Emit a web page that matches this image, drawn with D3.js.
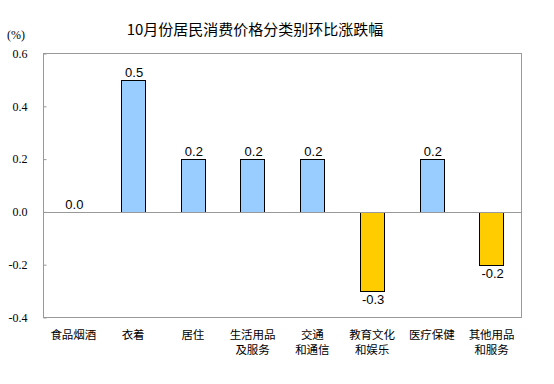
<!DOCTYPE html>
<html>
<head>
<meta charset="utf-8">
<script src="https://cdn.jsdelivr.net/npm/d3@7"></script>
<style>
  body { margin: 0; background: #fff; }
  svg { display: block; }
</style>
</head>
<body>
<div id="chart"></div>
<script>
// data
const categories = ["食品烟酒", "衣着", "居住", "生活用品\n及服务", "交通\n和通信", "教育文化\n和娱乐", "医疗保健", "其他用品\n和服务"];
const values = [0.0, 0.5, 0.2, 0.2, 0.2, -0.3, 0.2, -0.2];
const yTicks = [-0.4, -0.2, 0.0, 0.2, 0.4, 0.6];
const title = "10月份居民消费价格分类别环比涨跌幅";

const width = 554;
const height = 384;
const plotL = 43.5, plotR = 521.5, plotT = 53.5, plotB = 317.5;

// hyphen minus like the original
const fmt = d => d3.format(".1f")(d).replace("\u2212", "-");

const svg = d3.select("#chart").append("svg")
    .attr("width", width)
    .attr("height", height);

// scales
const x = d3.scaleBand().domain(categories).range([plotL, plotR]);
const y = d3.scaleLinear().domain([-0.4, 0.6]).range([plotB, plotT]);
const barW = x.bandwidth() * 0.41;

// title
svg.append("text")
    .attr("x", 255)
    .attr("y", 35)
    .attr("text-anchor", "middle")
    .style("font-family", "'Noto Sans CJK SC', sans-serif")
    .style("font-size", "15px")
    .style("fill", "#000")
    .text(title);

svg.append("text")
    .attr("x", 16)
    .attr("y", 39)
    .attr("text-anchor", "middle")
    .style("font-family", "'Liberation Serif', serif")
    .style("font-size", "12px")
    .text("(%)");

// frame
svg.append("rect")
    .attr("x", plotL).attr("y", plotT)
    .attr("width", plotR - plotL).attr("height", plotB - plotT)
    .attr("fill", "none")
    .attr("stroke", "#999");

// y axis
const yaxis = d3.axisLeft(y)
    .tickValues(yTicks)
    .tickFormat(fmt)
    .tickSize(-3)
    .tickPadding(16);

const ya = svg.append("g")
    .attr("transform", "translate(" + plotL + ",0)")
    .call(yaxis);
ya.select(".domain").remove();
ya.selectAll(".tick line").attr("stroke", "#999");
ya.selectAll(".tick text")
    .style("font-family", "'Liberation Serif', serif")
    .style("font-size", "12px")
    .attr("fill", "#000");

// bars
svg.selectAll(".bar")
    .data(values)
    .join("rect")
    .attr("class", "bar")
    .attr("x", (d, i) => Math.round(x(categories[i]) + (x.bandwidth() - barW) / 2) + 0.5)
    .attr("y", d => Math.round(y(Math.max(0, d))) + 0.5)
    .attr("width", Math.round(barW))
    .attr("height", d => Math.abs(Math.round(y(d)) - Math.round(y(0))))
    .attr("fill", d => d >= 0 ? "#99ccff" : "#ffcc00")
    .attr("stroke", "#000")
    .attr("stroke-width", 1)
    .style("display", d => d === 0 ? "none" : null);

// zero line
svg.append("line")
    .attr("x1", plotL).attr("x2", plotR)
    .attr("y1", Math.round(y(0)) + 0.5).attr("y2", Math.round(y(0)) + 0.5)
    .attr("stroke", "#999");

// value labels
svg.selectAll(".val")
    .data(values)
    .join("text")
    .attr("class", "val")
    .attr("x", (d, i) => x(categories[i]) + x.bandwidth() / 2 + 1)
    .attr("y", d => d >= 0 ? y(d) - 3 : y(d) + 13)
    .attr("text-anchor", "middle")
    .style("font-family", "'Liberation Sans', Arial, sans-serif")
    .style("font-size", "13px")
    .text(fmt);

// category labels
const cat = svg.selectAll(".cat")
    .data(categories)
    .join("text")
    .attr("class", "cat")
    .attr("text-anchor", "middle")
    .style("font-family", "'Noto Sans CJK SC', sans-serif")
    .style("font-size", "11.5px");

cat.selectAll("tspan")
    .data(d => d.split("\n").map(s => ({ s: s, c: d })))
    .join("tspan")
    .attr("x", d => x(d.c) + x.bandwidth() / 2)
    .attr("y", (d, i) => 339 + i * 15)
    .text(d => d.s);
</script>
</body>
</html>
